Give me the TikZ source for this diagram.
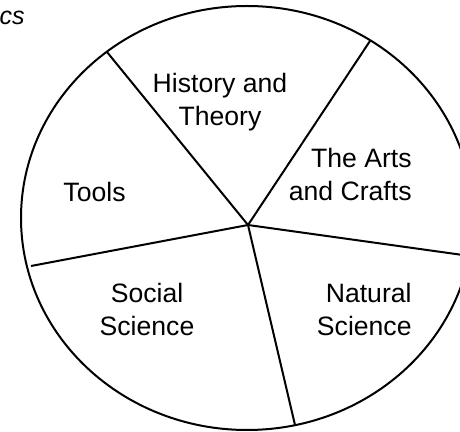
\documentclass[tikz,border=0pt]{standalone}
\usepackage{fontspec}
\setmainfont{Liberation Sans}
\usetikzlibrary{positioning}
\newcommand{\spoke}[1]{
	\draw[rim line] (hub) -- (#1);
}
\newcommand{\fieldlabel}[4]{
	\node[field, #4] (#1) at (#2) {#3};
}

\begin{document}
\begin{tikzpicture}[x=0.5pt, y=-0.5pt,
		rim line/.style={line width=1pt},
		field/.style={inner sep=0pt, font=\fontsize{13.3}{16.5}\selectfont}]
			\useasboundingbox (0,0) rectangle (460,432);
			\clip (0,0) rectangle (460,432);
			% Wheel
			\draw[rim line] (247,218) ellipse [x radius=113pt, y radius=106pt];
			\coordinate (hub) at (248,225);
			\coordinate (rim-history) at (107,52);
			\coordinate (rim-arts) at (370,41);
			\coordinate (rim-natural) at (470,256);
			\coordinate (rim-social) at (295,425);
			\coordinate (rim-tools) at (31,266);
			% Spokes
			\spoke{rim-history}
			\spoke{rim-arts}
			\spoke{rim-natural}
			\spoke{rim-social}
			\spoke{rim-tools}
			% Fields
			\fieldlabel{history}{220,101.7}{History and\\Theory}{align=center}
			\fieldlabel{arts}{412,174.5}{The Arts\\and Crafts}{align=right, anchor=east}
			\fieldlabel{tools}{94.5,191.5}{Tools}{}
			\fieldlabel{social}{147,309}{Social\\Science}{align=center}
			\fieldlabel{natural}{412,309}{Natural\\Science}{align=right, anchor=east}
			\node[field, anchor=base east, font=\fontsize{12.5}{16.5}\selectfont\itshape] (topics) at (25,25) {ics};
\end{tikzpicture}
\end{document}
